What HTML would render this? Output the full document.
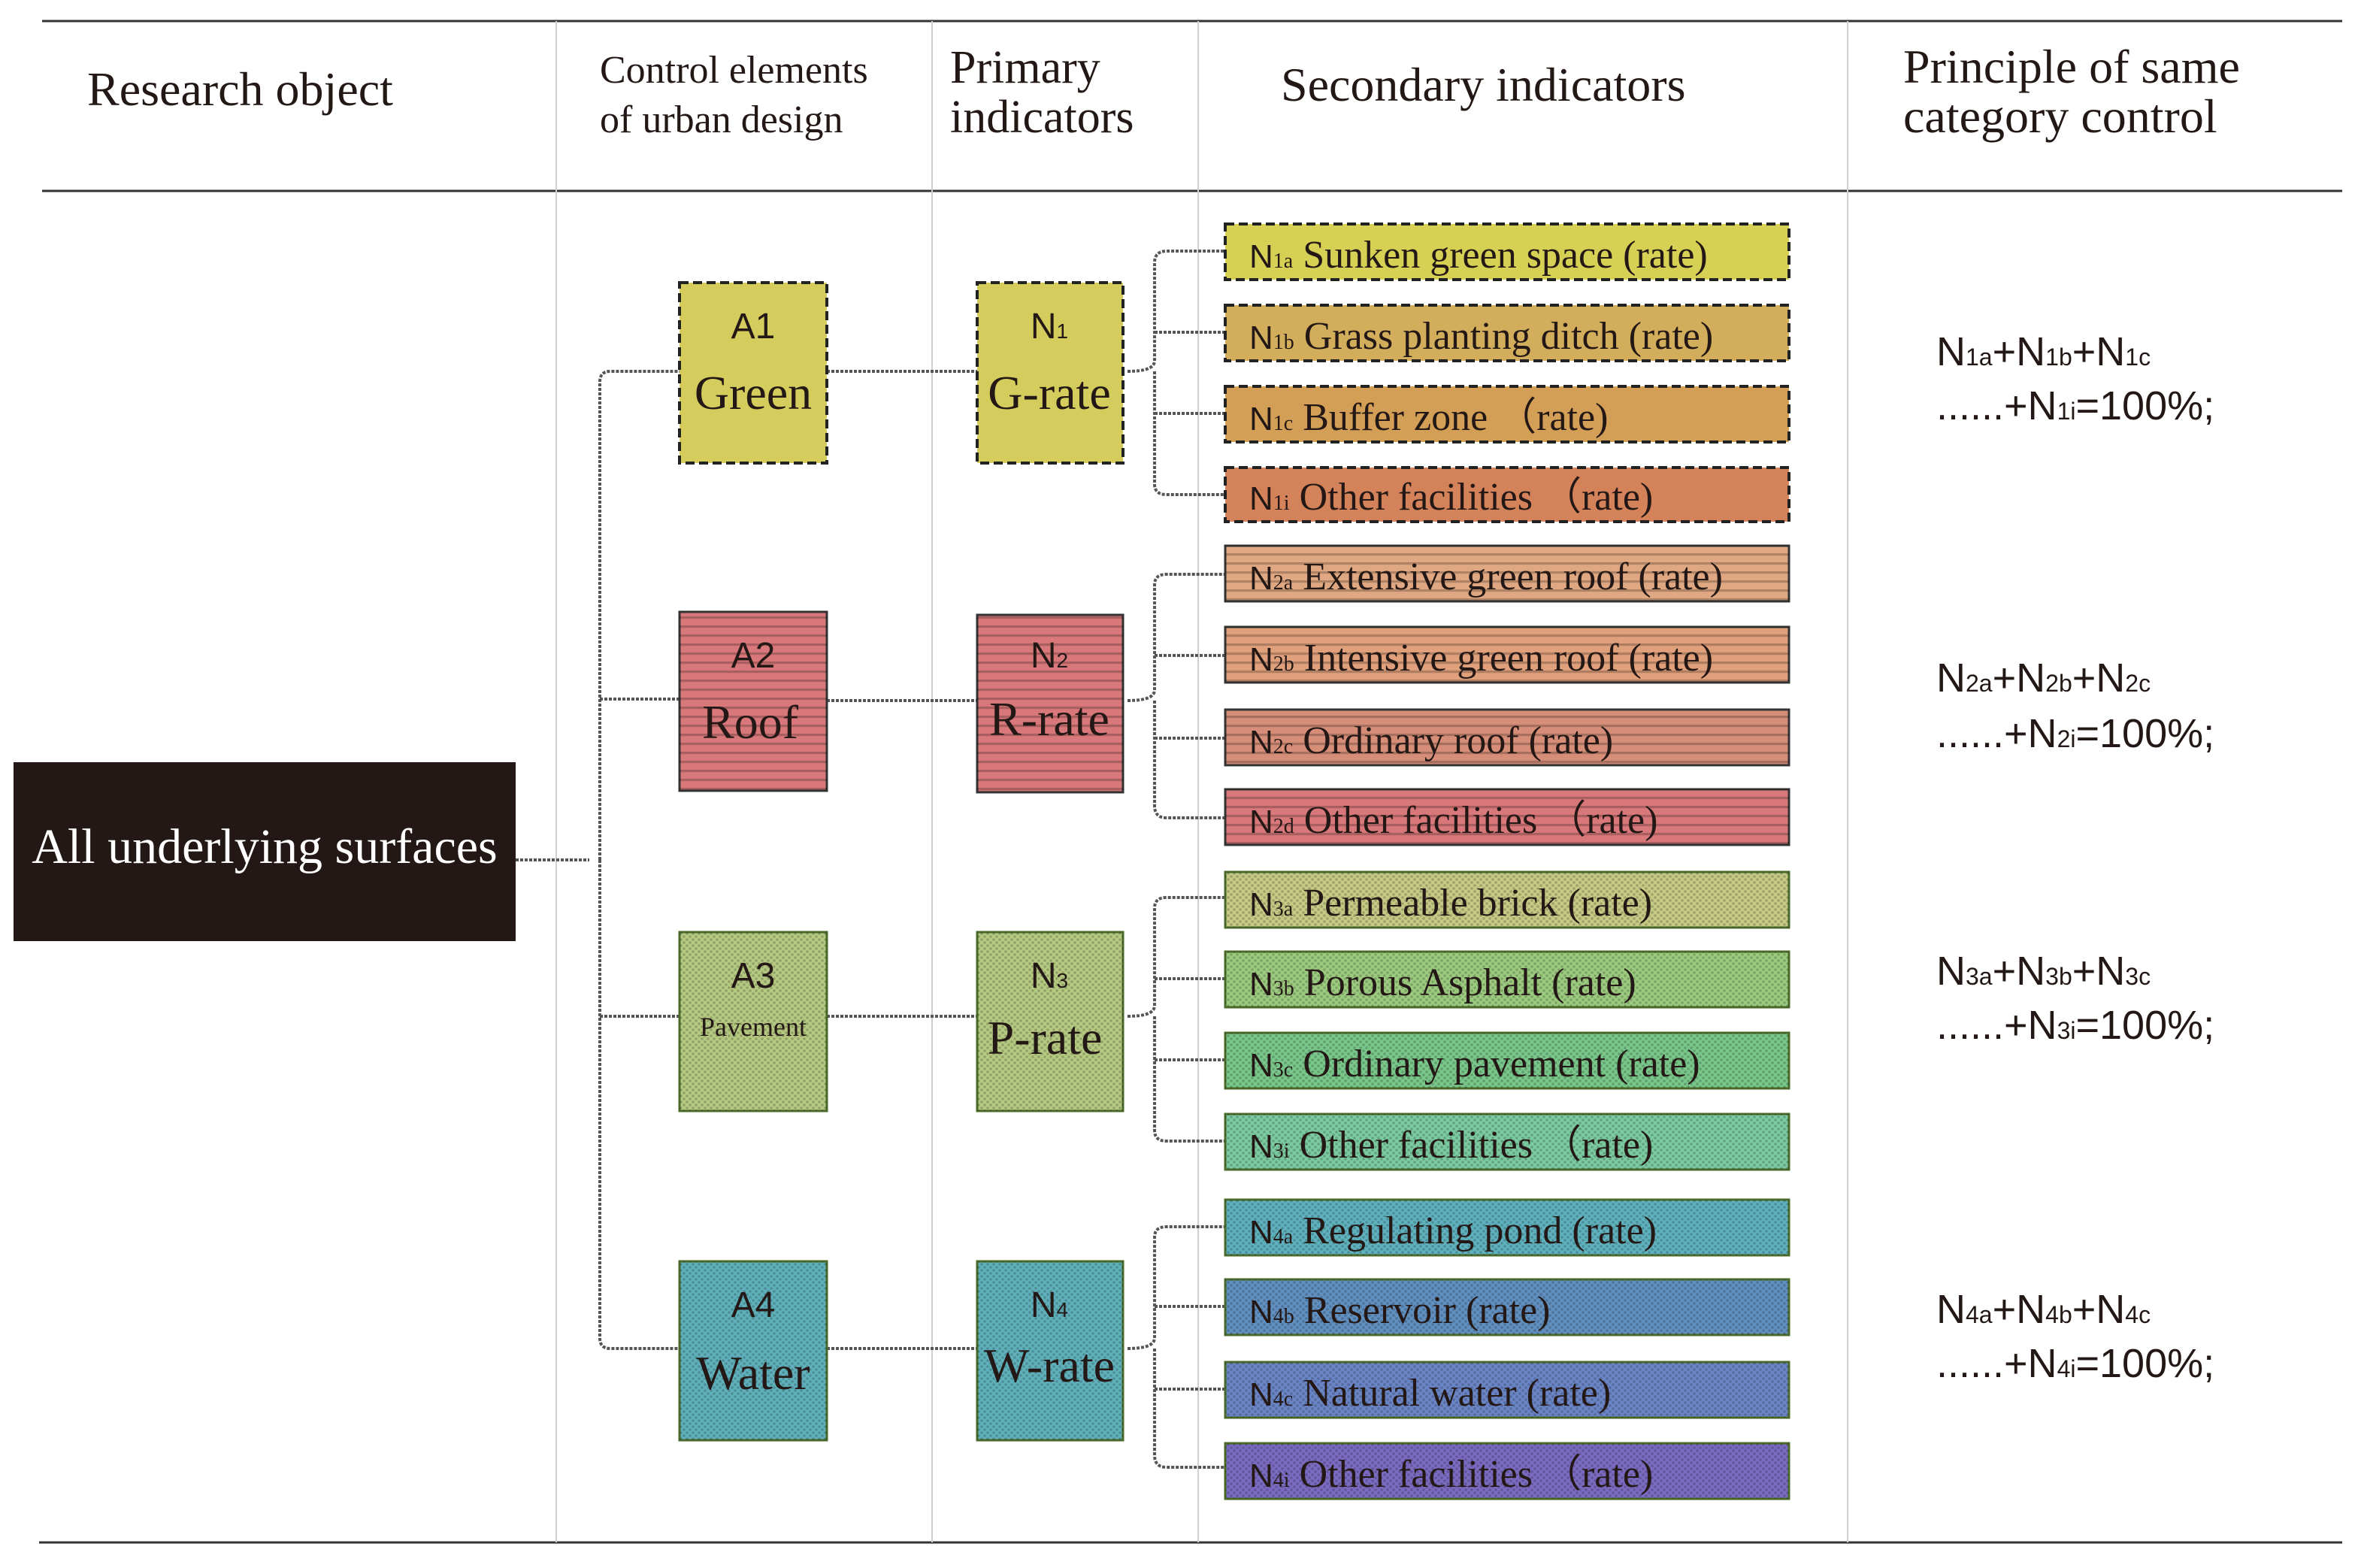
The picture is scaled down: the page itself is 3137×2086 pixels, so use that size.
<!DOCTYPE html>
<html><head><meta charset="utf-8"><style>html,body{margin:0;padding:0;background:#fff}svg{display:block}</style></head>
<body>
<svg width="3137" height="2086" viewBox="0 0 1568.5 1043" preserveAspectRatio="none" xmlns="http://www.w3.org/2000/svg" font-family="Liberation Serif, serif" fill="#231815">
<defs>
<pattern id="st" width="6" height="6" patternUnits="userSpaceOnUse"><rect width="6" height="1.6" y="2" fill="#000" opacity="0.22"/></pattern>
<pattern id="dt" width="4" height="4" patternUnits="userSpaceOnUse"><circle cx="1" cy="1" r="0.9" fill="#000" opacity="0.2"/><circle cx="3" cy="3" r="0.9" fill="#000" opacity="0.2"/></pattern>
</defs>
<g stroke="#333" stroke-width="1.5"><line x1="28" y1="14" x2="1558" y2="14"/><line x1="28" y1="127" x2="1558" y2="127"/><line x1="26" y1="1026" x2="1558" y2="1026"/></g>
<g stroke="#d0d0d0" stroke-width="1"><line x1="370" y1="14" x2="370" y2="1026"/><line x1="620" y1="14" x2="620" y2="1026"/><line x1="797" y1="14" x2="797" y2="1026"/><line x1="1229" y1="14" x2="1229" y2="1026"/></g>
<text x="58" y="70" font-size="32">Research object</text>
<text x="399" y="55" font-size="26">Control elements</text><text x="399" y="88" font-size="26">of urban design</text>
<text x="632" y="55" font-size="31">Primary</text><text x="632" y="88" font-size="31">indicators</text>
<text x="852" y="67" font-size="32">Secondary indicators</text>
<text x="1266" y="55" font-size="32">Principle of same</text><text x="1266" y="88" font-size="32">category control</text>
<rect x="9" y="507" width="334" height="119" fill="#231815"/>
<text x="176" y="574" font-size="33" fill="#fff" text-anchor="middle">All underlying surfaces</text>
<g fill="none" stroke="#555" stroke-width="2" stroke-dasharray="2 1">
<path d="M343 572H392M399 572V254Q399 247 406 247H452M399 572V890Q399 897 406 897H452M399 465H452M399 676H452"/>
<path d="M550 247H650M550 466H650M550 676H650M550 897H650"/>
</g>
<g fill="none" stroke="#555" stroke-width="2" stroke-dasharray="2 1">
<path d="M750 247Q768 247 768 240V175Q768 167 776 167H815M768 247V322Q768 329 776 329H815M768 221H815M768 275H815"/>
<path d="M750 466Q768 466 768 459V389Q768 382 776 382H815M768 466V536Q768 544 776 544H815M768 436H815M768 491H815"/>
<path d="M750 676Q768 676 768 669V604Q768 597 776 597H815M768 676V752Q768 759 776 759H815M768 651H815M768 705H815"/>
<path d="M750 897Q768 897 768 890V823Q768 816 776 816H815M768 897V968Q768 976 776 976H815M768 869H815M768 924H815"/>
</g>
<g stroke="#222" stroke-width="2" stroke-dasharray="6 3">
<rect x="452" y="188" width="98" height="120" fill="#d4cc5c"/><rect x="650" y="188" width="97" height="120" fill="#d4cc5c"/>
<rect x="815" y="149" width="375" height="37" fill="#d6d154"/><rect x="815" y="203" width="375" height="37" fill="#d2ae5c"/>
<rect x="815" y="257" width="375" height="37" fill="#d39f57"/><rect x="815" y="311" width="375" height="36" fill="#d3825a"/>
</g>
<g stroke="#333" stroke-width="1.5">
<rect x="452" y="407" width="98" height="119" fill="#d8787a"/><rect x="650" y="409" width="97" height="118" fill="#d8787a"/>
<rect x="815" y="363" width="375" height="37" fill="#e0a882"/><rect x="815" y="417" width="375" height="37" fill="#e0a07c"/>
<rect x="815" y="472" width="375" height="37" fill="#d68e78"/><rect x="815" y="525" width="375" height="37" fill="#d8787a"/>
</g>
<g fill="url(#st)"><rect x="452" y="407" width="98" height="119"/><rect x="650" y="409" width="97" height="118"/><rect x="815" y="363" width="375" height="37"/><rect x="815" y="417" width="375" height="37"/><rect x="815" y="472" width="375" height="37"/><rect x="815" y="525" width="375" height="37"/></g>
<g stroke="#4a6a2a" stroke-width="1.5">
<rect x="452" y="620" width="98" height="119" fill="#b5c981"/><rect x="650" y="620" width="97" height="119" fill="#b5c981"/>
<rect x="815" y="580" width="375" height="37" fill="#c5c984"/><rect x="815" y="633" width="375" height="37" fill="#9ccb80"/>
<rect x="815" y="687" width="375" height="37" fill="#79c78a"/><rect x="815" y="741" width="375" height="37" fill="#7ccba0"/>
<rect x="452" y="839" width="98" height="119" fill="#5fb0bb"/><rect x="650" y="839" width="97" height="119" fill="#5fb0bb"/>
<rect x="815" y="798" width="375" height="37" fill="#5fb1bd"/><rect x="815" y="851" width="375" height="37" fill="#6190c0"/>
<rect x="815" y="906" width="375" height="37" fill="#6a85c5"/><rect x="815" y="960" width="375" height="37" fill="#7a6bc1"/>
</g>
<g fill="url(#dt)"><rect x="452" y="620" width="98" height="119"/><rect x="650" y="620" width="97" height="119"/><rect x="815" y="580" width="375" height="37"/><rect x="815" y="633" width="375" height="37"/><rect x="815" y="687" width="375" height="37"/><rect x="815" y="741" width="375" height="37"/><rect x="452" y="839" width="98" height="119"/><rect x="650" y="839" width="97" height="119"/><rect x="815" y="798" width="375" height="37"/><rect x="815" y="851" width="375" height="37"/><rect x="815" y="906" width="375" height="37"/><rect x="815" y="960" width="375" height="37"/></g>
<g text-anchor="middle" font-family="Liberation Sans, sans-serif" font-size="24">
<text x="501" y="225">A1</text><text x="501" y="444">A2</text><text x="501" y="657">A3</text><text x="501" y="876">A4</text>
<text x="698" y="225">N<tspan font-size="14">1</tspan></text><text x="698" y="444">N<tspan font-size="14">2</tspan></text><text x="698" y="657">N<tspan font-size="14">3</tspan></text><text x="698" y="876">N<tspan font-size="14">4</tspan></text>
</g>
<g text-anchor="middle" font-size="32">
<text x="501" y="272">Green</text><text x="499" y="491">Roof</text><text x="501" y="689" font-size="18">Pavement</text><text x="501" y="924">Water</text>
<text x="698" y="272">G-rate</text><text x="698" y="489">R-rate</text><text x="695" y="701">P-rate</text><text x="698" y="919">W-rate</text>
</g>
<g font-size="26">
<text x="831" y="178"><tspan font-family="Liberation Sans, sans-serif" font-size="22">N</tspan><tspan font-size="14">1a</tspan> Sunken green space (rate)</text>
<text x="831" y="232"><tspan font-family="Liberation Sans, sans-serif" font-size="22">N</tspan><tspan font-size="14">1b</tspan> Grass planting ditch (rate)</text>
<text x="831" y="286"><tspan font-family="Liberation Sans, sans-serif" font-size="22">N</tspan><tspan font-size="14">1c</tspan>  Buffer zone （rate)</text>
<text x="831" y="339"><tspan font-family="Liberation Sans, sans-serif" font-size="22">N</tspan><tspan font-size="14">1i</tspan>  Other facilities （rate)</text>
<text x="831" y="392"><tspan font-family="Liberation Sans, sans-serif" font-size="22">N</tspan><tspan font-size="14">2a</tspan> Extensive green roof (rate)</text>
<text x="831" y="446"><tspan font-family="Liberation Sans, sans-serif" font-size="22">N</tspan><tspan font-size="14">2b</tspan> Intensive green roof (rate)</text>
<text x="831" y="501"><tspan font-family="Liberation Sans, sans-serif" font-size="22">N</tspan><tspan font-size="14">2c</tspan> Ordinary roof (rate)</text>
<text x="831" y="554"><tspan font-family="Liberation Sans, sans-serif" font-size="22">N</tspan><tspan font-size="14">2d</tspan> Other facilities （rate)</text>
<text x="831" y="609"><tspan font-family="Liberation Sans, sans-serif" font-size="22">N</tspan><tspan font-size="14">3a</tspan> Permeable brick (rate)</text>
<text x="831" y="662"><tspan font-family="Liberation Sans, sans-serif" font-size="22">N</tspan><tspan font-size="14">3b</tspan> Porous Asphalt (rate)</text>
<text x="831" y="716"><tspan font-family="Liberation Sans, sans-serif" font-size="22">N</tspan><tspan font-size="14">3c</tspan> Ordinary pavement (rate)</text>
<text x="831" y="770"><tspan font-family="Liberation Sans, sans-serif" font-size="22">N</tspan><tspan font-size="14">3i</tspan>  Other facilities （rate)</text>
<text x="831" y="827"><tspan font-family="Liberation Sans, sans-serif" font-size="22">N</tspan><tspan font-size="14">4a</tspan> Regulating pond (rate)</text>
<text x="831" y="880"><tspan font-family="Liberation Sans, sans-serif" font-size="22">N</tspan><tspan font-size="14">4b</tspan> Reservoir (rate)</text>
<text x="831" y="935"><tspan font-family="Liberation Sans, sans-serif" font-size="22">N</tspan><tspan font-size="14">4c</tspan>  Natural water (rate)</text>
<text x="831" y="989"><tspan font-family="Liberation Sans, sans-serif" font-size="22">N</tspan><tspan font-size="14">4i</tspan>  Other facilities （rate)</text>
</g>
<g font-family="Liberation Sans, sans-serif" font-size="27">
<text x="1288" y="243">N<tspan font-size="16">1a</tspan>+N<tspan font-size="16">1b</tspan>+N<tspan font-size="16">1c</tspan></text>
<text x="1288" y="279">......+N<tspan font-size="16">1i</tspan>=100%;</text>
<text x="1288" y="460">N<tspan font-size="16">2a</tspan>+N<tspan font-size="16">2b</tspan>+N<tspan font-size="16">2c</tspan></text>
<text x="1288" y="497">......+N<tspan font-size="16">2i</tspan>=100%;</text>
<text x="1288" y="655">N<tspan font-size="16">3a</tspan>+N<tspan font-size="16">3b</tspan>+N<tspan font-size="16">3c</tspan></text>
<text x="1288" y="691">......+N<tspan font-size="16">3i</tspan>=100%;</text>
<text x="1288" y="880">N<tspan font-size="16">4a</tspan>+N<tspan font-size="16">4b</tspan>+N<tspan font-size="16">4c</tspan></text>
<text x="1288" y="916">......+N<tspan font-size="16">4i</tspan>=100%;</text>
</g>
</svg>
</body></html>
